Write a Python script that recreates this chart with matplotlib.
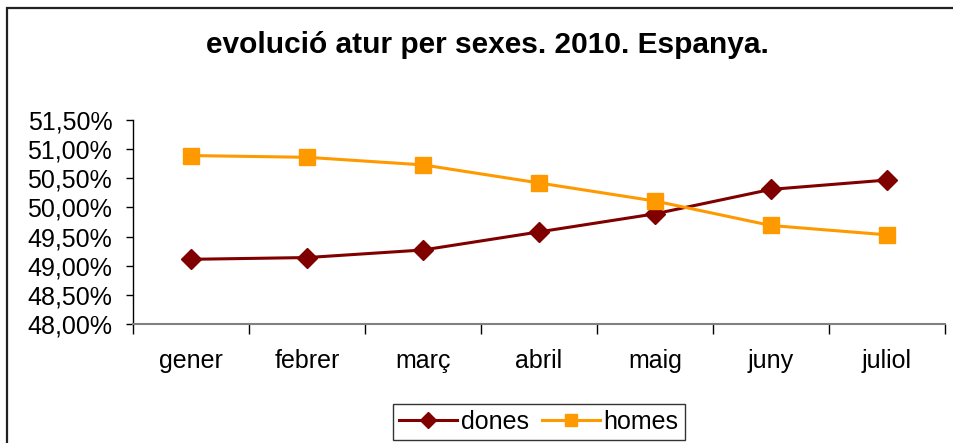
import matplotlib
matplotlib.use("Agg")
import matplotlib.pyplot as plt
from matplotlib.patches import Rectangle
from matplotlib.ticker import FuncFormatter, MultipleLocator

months = ["gener", "febrer", "març", "abril", "maig", "juny", "juliol"]
dones = [49.11, 49.14, 49.27, 49.58, 49.89, 50.31, 50.47]
homes = [50.89, 50.86, 50.73, 50.42, 50.11, 49.69, 49.53]
title = "evolució atur per sexes. 2010. Espanya."

plt.rcParams['font.family'] = ['Liberation Sans', 'DejaVu Sans']

W, H = 954, 443
fig = plt.figure(figsize=(W / 100, H / 100), dpi=100)

def fx(px):
    return px / W

def fy(py):
    return 1 - py / H

# outer chart border (extends past right/bottom edges)
fig.patches.append(Rectangle((fx(7), fy(600)), fx(1300) - fx(7), fy(8) - fy(600),
                             transform=fig.transFigure, fill=False,
                             edgecolor='#222222', linewidth=1.6))

ax = fig.add_axes([fx(133), fy(324), fx(945) - fx(133), fy(120) - fy(324)])
x = list(range(len(months)))
ax.plot(x, dones, color='#800000', marker='D', markersize=10, linewidth=2.2,
        label='dones', markeredgecolor='#800000')
ax.plot(x, homes, color='#FF9900', marker='s', markersize=11, linewidth=2.2,
        label='homes', markeredgecolor='#FF9900')

ax.set_xlim(-0.5, len(months) - 0.5)
ax.set_ylim(48.0, 51.5)
ax.yaxis.set_major_locator(MultipleLocator(0.5))
ax.yaxis.set_major_formatter(FuncFormatter(lambda v, p: f"{v:.2f}%".replace('.', ',')))
ax.set_xticks(x)
ax.set_xticklabels(months)
ax.set_xticks([i - 0.5 for i in range(len(months) + 1)], minor=True)
ax.tick_params(axis='x', which='major', length=0, pad=18, labelsize=18)
ax.tick_params(axis='x', which='minor', length=7, width=1, color='#000000', direction='out')
ax.tick_params(axis='y', which='major', length=5, width=1, labelsize=18, pad=10)
for s in ['top', 'right']:
    ax.spines[s].set_visible(False)
ax.spines['left'].set_color('#000000')
ax.spines['left'].set_linewidth(1)
ax.spines['bottom'].set_color('#808080')
ax.spines['bottom'].set_linewidth(1.5)

fig.text(fx(487), fy(45), title, ha='center', va='center',
         fontsize=21.5, fontweight='bold')

leg = fig.legend(loc='center', bbox_to_anchor=(fx(539), fy(422)), ncol=2,
                 frameon=True, fontsize=18, fancybox=False, edgecolor='#000000',
                 handlelength=2.3, handletextpad=0.15, columnspacing=0.55,
                 borderpad=0.25, markerscale=0.8)
leg.get_frame().set_linewidth(1)

fig.savefig("out.png", dpi=100)
